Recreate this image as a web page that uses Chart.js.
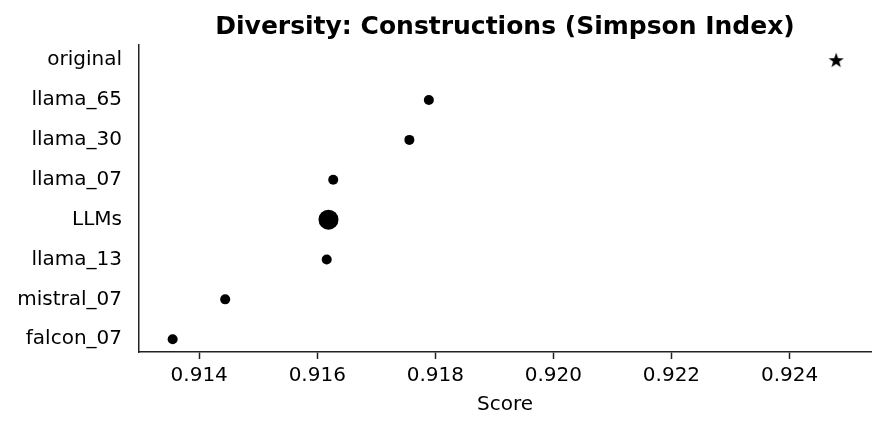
<!DOCTYPE html>
<html>
<head>
<meta charset="utf-8">
<script src="https://cdn.jsdelivr.net/npm/chart.js@4.4.1/dist/chart.umd.min.js"></script>
<style>
  html, body { margin: 0; padding: 0; background: #fff; }
  #wrap { width: 885px; height: 431px; position: relative; }
</style>
</head>
<body>
<div id="wrap"><canvas id="grafico"></canvas></div>
<script>
// datos (de arriba a abajo)
var categorias = ["original", "llama_65", "llama_30", "llama_07", "LLMs", "llama_13", "mistral_07", "falcon_07"];
var puntuaciones = [0.92479, 0.91789, 0.91756, 0.91627, 0.91619, 0.91616, 0.91444, 0.91355];
var ticksX = [0.914, 0.916, 0.918, 0.920, 0.922, 0.924];

var negro = "#000000";
var colorEje = "#222222";

// estrella rellena para "original"
function crearEstrella(r) {
  var c = document.createElement("canvas");
  var tam = Math.ceil(r * 2 + 2);
  c.width = tam;
  c.height = tam;
  var g = c.getContext("2d");
  var cx = tam / 2, cy = tam / 2 + 0.6;
  g.beginPath();
  for (var i = 0; i < 10; i++) {
    var ang = -Math.PI / 2 + i * Math.PI / 5;
    var rad = (i % 2 == 0) ? r : r * 0.4;
    var px = cx + rad * Math.cos(ang);
    var py = cy + rad * Math.sin(ang);
    if (i == 0) g.moveTo(px, py); else g.lineTo(px, py);
  }
  g.closePath();
  g.fillStyle = negro;
  g.fill();
  return c;
}
var estrella = crearEstrella(8);

Chart.defaults.font.family = "'DejaVu Sans', sans-serif";
Chart.defaults.color = negro;

var puntos = puntuaciones.map(function(v, i) { return { x: v, y: i }; });

var ctx = document.getElementById("grafico").getContext("2d");
var grafico = new Chart(ctx, {
  type: "scatter",
  data: {
    datasets: [{
      label: "Score",
      data: puntos,
      backgroundColor: negro,
      borderColor: negro,
      borderWidth: 0,
      pointStyle: function(c) {
        return categorias[c.dataIndex] == "original" ? estrella : "circle";
      },
      pointRadius: function(c) {
        return categorias[c.dataIndex] == "LLMs" ? 10 : 5;
      }
    }]
  },
  options: {
    responsive: true,
    maintainAspectRatio: false,
    animation: false,
    events: [],
    layout: { padding: { left: 0, right: 14, top: 0, bottom: 0 } },
    plugins: {
      legend: { display: false },
      tooltip: { enabled: false },
      title: {
        display: true,
        fullSize: false, // centrado sobre el area del grafico
        text: "Diversity: Constructions (Simpson Index)",
        color: negro,
        font: { size: 25, weight: "bold" },
        padding: { top: 12, bottom: 3 }
      }
    },
    scales: {
      x: {
        type: "linear",
        min: 0.91298,
        max: 0.92538,
        afterBuildTicks: function(eje) {
          eje.ticks = ticksX.map(function(v) { return { value: v }; });
        },
        afterFit: function(eje) { eje.height = 79; },
        ticks: {
          color: negro,
          font: { size: 20 },
          padding: 5,
          maxRotation: 0,
          callback: function(v) { return Number(v).toFixed(3); }
        },
        grid: {
          display: true,
          drawOnChartArea: false,
          drawTicks: true,
          tickLength: 7,
          tickColor: colorEje,
          tickWidth: 1.5
        },
        border: { display: true, color: colorEje, width: 1.5 },
        title: {
          display: true,
          text: "Score",
          color: negro,
          font: { size: 20 },
          padding: { top: 2, bottom: 14 }
        }
      },
      y: {
        type: "linear",
        reverse: true, // "original" arriba
        min: -0.38,
        max: 7.32,
        afterBuildTicks: function(eje) {
          eje.ticks = categorias.map(function(_, i) { return { value: i }; });
        },
        afterFit: function(eje) { eje.width = 139; },
        ticks: {
          color: negro,
          font: { size: 20 },
          padding: 17,
          callback: function(v) { return categorias[v]; }
        },
        grid: { display: false, drawTicks: false },
        border: { display: true, color: colorEje, width: 1.5 }
      }
    }
  }
});
</script>
</body>
</html>
